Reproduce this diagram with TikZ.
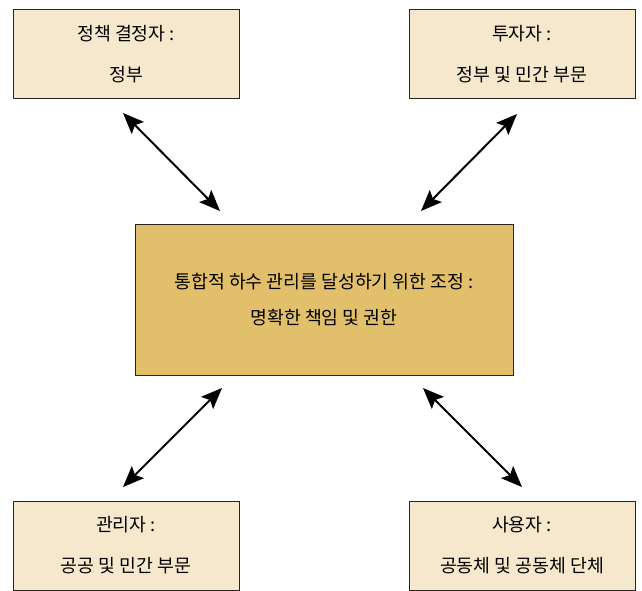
\documentclass[tikz,border=0pt]{standalone}
\usepackage{fontspec}
\newfontfamily\kr{Noto Sans CJK KR}
\usetikzlibrary{arrows.meta}
\definecolor{lightbox}{RGB}{245,232,204}
\definecolor{goldbox}{RGB}{226,191,106}
\definecolor{edge}{RGB}{40,36,32}
\tikzset{
  actor/.style={draw=edge, line width=1pt, fill=lightbox, minimum width=226pt, minimum height=89pt, inner sep=0pt, align=center, font=\kr\fontsize{18.3}{41}\selectfont},
  hub/.style={draw=edge, line width=1pt, fill=goldbox, minimum width=378pt, minimum height=151pt, inner sep=0pt, align=center, font=\kr\fontsize{18.3}{36}\selectfont},
  link/.style={line width=2pt, {Stealth[length=21pt,width=17pt,inset=4pt]}-{Stealth[length=21pt,width=17pt,inset=4pt]}}
}
\begin{document}
\begin{tikzpicture}[x=1pt,y=1pt]
\useasboundingbox (0,0) rectangle (642,-591);
\node[actor] (pol) at (126,-54.5) {정책 결정자 :\\정부};
\node[actor] (inv) at (522,-54.5) {투자자 :\\정부 및 민간 부문};
\node[hub] (ctr) at (324,-299.5) {통합적 하수 관리를 달성하기 위한 조정 :\\명확한 책임 및 권한};
\node[actor] (mgr) at (126,-545.5) {관리자 :\\공공 및 민간 부문};
\node[actor] (usr) at (522,-545.5) {사용자 :\\공동체 및 공동체 단체};
\coordinate (p1) at (123,-113);
\coordinate (p2) at (220,-211);
\coordinate (i1) at (517,-114);
\coordinate (i2) at (421,-211);
\coordinate (m1) at (222,-388);
\coordinate (m2) at (123,-487);
\coordinate (u1) at (423,-388);
\coordinate (u2) at (522,-487);
\draw[link] (p1) -- (p2);
\draw[link] (i1) -- (i2);
\draw[link] (m1) -- (m2);
\draw[link] (u1) -- (u2);
\end{tikzpicture}
\end{document}
